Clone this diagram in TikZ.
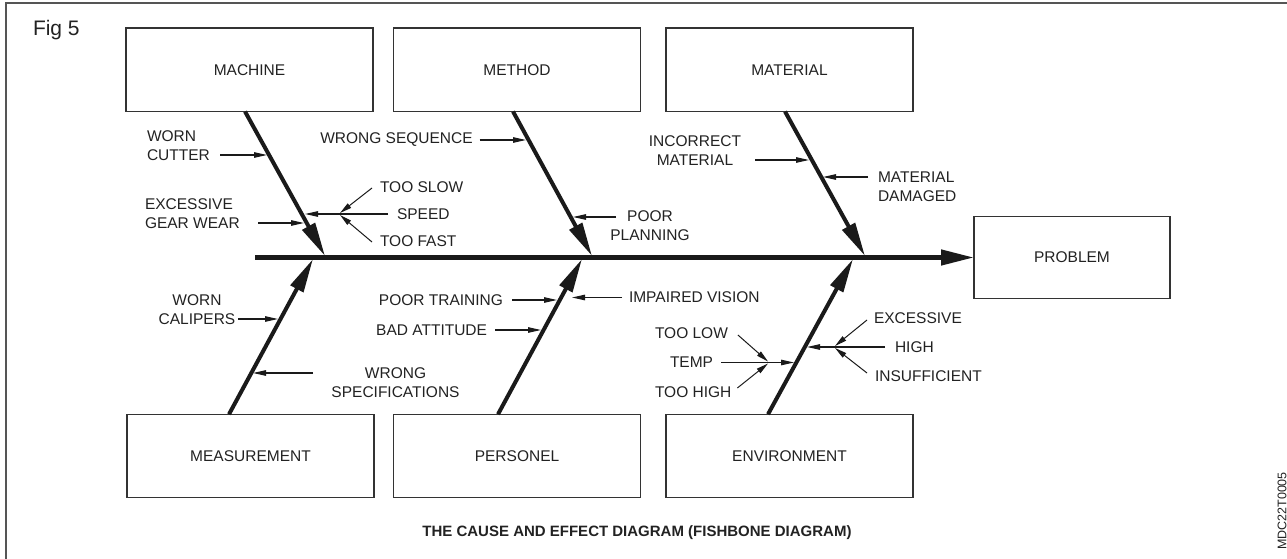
\documentclass[tikz,border=0pt]{standalone}
\usepackage{fontspec}
\setmainfont{Liberation Sans}
\usetikzlibrary{arrows.meta,calc}
\definecolor{ink}{HTML}{1A1A1A}
\definecolor{boxc}{HTML}{333333}
\definecolor{txt}{HTML}{222222}
\definecolor{framec}{HTML}{555555}
\begin{document}
\begin{tikzpicture}[x=1pt,y=-1pt,
  every node/.style={inner sep=0pt, outer sep=0pt, text=txt, font=\fontsize{15.5}{19}\selectfont},
  cause/.style={draw=boxc, line width=1.2pt, minimum width=247pt, minimum height=83.5pt},
  bone/.style={line width=4pt, draw=ink, -{Triangle[length=34pt,width=14pt]}},
  spine/.style={line width=4.5pt, draw=ink, -{Triangle[length=33pt,width=15pt]}},
  sub/.style={line width=1.1pt, draw=ink, -{Triangle[length=13pt,width=5.5pt]}},
  feeder/.style={line width=1pt, draw=ink, -{Triangle[length=12pt,width=5.5pt]}}]
\useasboundingbox (0,0) rectangle (1287,559);
% frame
\draw[framec, line width=1.5pt] (1287,3) -- (6,3) -- (6,565);
\node[anchor=base west, font=\fontsize{21}{24}\selectfont] (fig) at (33,35.3) {Fig 5};

% cause boxes
\node[cause] (machine) at (249.5,69.75) {MACHINE};
\node[cause] (method) at (517,69.75) {METHOD};
\node[cause] (material) at (789.5,69.75) {MATERIAL};
\node[cause] (measurement) at (250.5,456) {MEASUREMENT};
\node[cause] (personel) at (517,456) {PERSONEL};
\node[cause] (environment) at (789.5,456) {ENVIRONMENT};
\node[draw=boxc, line width=1.2pt, minimum width=196pt, minimum height=82pt] (problem) at (1072,257.5) {PROBLEM};

% joints on the spine
\coordinate (tail) at (255,257.5);
\coordinate (jMachine) at (325,256);
\coordinate (jMethod) at (592,256);
\coordinate (jMaterial) at (865,256);
\coordinate (jMeasure) at (313,259);
\coordinate (jPersonel) at (582,259);
\coordinate (jEnviron) at (853,259);

% bones
\draw[bone] ([xshift=-4.5pt]machine.south) -- (jMachine);
\draw[bone] ([xshift=-4pt]method.south) -- (jMethod);
\draw[bone] ([xshift=-4.5pt]material.south) -- (jMaterial);
\draw[bone] ([xshift=-21.5pt]measurement.north) -- (jMeasure);
\draw[bone] ([xshift=-19pt]personel.north) -- (jPersonel);
\draw[bone] ([xshift=-21.5pt]environment.north) -- (jEnviron);
\draw[spine] (tail) -- (problem.west);

% MACHINE causes
\node[anchor=west, align=left] (worncutter) at (147,146) {WORN\\CUTTER};
\coordinate (wcA) at (220,155); \coordinate (wcB) at (267,155);
\draw[sub] (wcA) -- (wcB);
\node[anchor=west, align=left] (gearwear) at (145,213.5) {EXCESSIVE\\GEAR WEAR};
\coordinate (gwA) at (258,223); \coordinate (gwB) at (304,223);
\draw[sub] (gwA) -- (gwB);
\node[anchor=west] (tooslow) at (380,187) {TOO SLOW};
\node[anchor=west] (speed) at (397,214) {SPEED};
\node[anchor=west] (toofast) at (380,241) {TOO FAST};
\coordinate (spdJ) at (340,214); \coordinate (spdB) at (305,214);
\draw[sub] ([xshift=-9pt]speed.west) -- (spdB);
\draw[feeder] ([xshift=-8pt,yshift=-1pt]tooslow.west) -- ([yshift=1pt]spdJ);
\draw[feeder] ([xshift=-8pt,yshift=-1pt]toofast.west) -- ([yshift=-1pt]spdJ);

% METHOD causes
\node (wrongseq) at (396.5,140) {WRONG SEQUENCE};
\coordinate (wsB) at (526,140);
\draw[sub] ([xshift=7pt]wrongseq.east) -- (wsB);
\node[align=center] (poorplan) at (650,226) {POOR\\PLANNING};
\coordinate (ppA) at (616,217); \coordinate (ppB) at (573,217);
\draw[sub] (ppA) -- (ppB);

% MATERIAL causes
\node[align=center] (incorrect) at (695,150.5) {INCORRECT\\MATERIAL};
\coordinate (imA) at (755,160); \coordinate (imB) at (809,160);
\draw[sub] (imA) -- (imB);
\node[anchor=west, align=left] (damaged) at (878,187) {MATERIAL\\DAMAGED};
\coordinate (mdA) at (868,177); \coordinate (mdB) at (823,177);
\draw[sub] (mdA) -- (mdB);

% MEASUREMENT causes
\node[align=center] (calipers) at (197,309.5) {WORN\\CALIPERS};
\coordinate (wkA) at (238,319); \coordinate (wkB) at (278,319);
\draw[sub] (wkA) -- (wkB);
\node[align=center] (wrongspec) at (395.5,382.5) {WRONG\\SPECIFICATIONS};
\coordinate (wsA) at (313,373); \coordinate (wspB) at (253,373);
\draw[sub] (wsA) -- (wspB);

% PERSONEL causes
\node[anchor=east] (training) at (503,300) {POOR TRAINING};
\coordinate (ptB) at (557,300);
\draw[sub] ([xshift=9pt]training.east) -- (ptB);
\node[anchor=east] (attitude) at (487,330) {BAD ATTITUDE};
\coordinate (baB) at (541,330);
\draw[sub] ([xshift=8pt]attitude.east) -- (baB);
\node[anchor=west] (vision) at (629,297.5) {IMPAIRED VISION};
\coordinate (ivB) at (572,297.5);
\draw[sub] ([xshift=-7pt]vision.west) -- (ivB);

% ENVIRONMENT causes
\node[anchor=west] (toolow) at (655,333) {TOO LOW};
\node[anchor=west] (temp) at (670,362.5) {TEMP};
\node[anchor=west] (toohigh) at (655,392) {TOO HIGH};
\coordinate (tmpJ) at (768,362.5); \coordinate (tmpB) at (794,362.5);
\draw[sub] ([xshift=8pt]temp.east) -- (tmpB);
\draw[feeder] ([xshift=10pt,yshift=-2pt]toolow.east) -- ([yshift=1pt]tmpJ);
\draw[feeder] ([xshift=6pt,yshift=4pt]toohigh.east) -- ([yshift=-1pt]tmpJ);
\node[anchor=west] (excessive) at (874,318) {EXCESSIVE};
\node[anchor=west] (high) at (895,347) {HIGH};
\node[anchor=west] (insufficient) at (875,376) {INSUFFICIENT};
\coordinate (hiJ) at (835,347); \coordinate (hiB) at (807,347);
\draw[sub] ([xshift=-10pt]high.west) -- (hiB);
\draw[feeder] ([xshift=-7pt,yshift=-2pt]excessive.west) -- ([yshift=1pt]hiJ);
\draw[feeder] ([xshift=-8pt,yshift=3pt]insufficient.west) -- ([yshift=-1pt]hiJ);

% caption and code
\node[anchor=base, font=\bfseries\fontsize{15}{18}\selectfont] (caption) at (637,536.5) {THE CAUSE AND EFFECT DIAGRAM (FISHBONE DIAGRAM)};
\node[rotate=90, font=\fontsize{12.5}{15}\selectfont] (code) at (1282,511) {MDC22T0005};
\end{tikzpicture}
\end{document}
